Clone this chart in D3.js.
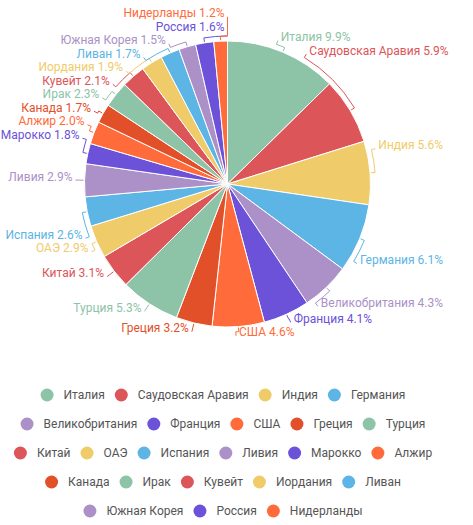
<!DOCTYPE html>
<meta charset="utf-8">
<style>
  body { margin: 0; background: #fff; }
  text { font-family: Roboto, "Noto Sans", sans-serif; }
</style>
<body>
<svg width="473" height="525"></svg>

<!-- load the d3.js library -->
<script src="https://cdn.jsdelivr.net/npm/d3@7/dist/d3.min.js"></script>

<script>

// Data
var countries = ["Италия", "Саудовская Аравия", "Индия", "Германия", "Великобритания",
                 "Франция", "США", "Греция", "Турция", "Китай", "ОАЭ", "Испания",
                 "Ливия", "Марокко", "Алжир", "Канада", "Ирак", "Кувейт", "Иордания",
                 "Ливан", "Южная Корея", "Россия", "Нидерланды"];
var shares = [9.9, 5.9, 5.6, 6.1, 4.3, 4.1, 4.6, 3.2, 5.3, 3.1, 2.9, 2.6,
              2.9, 1.8, 2.0, 1.7, 2.3, 2.1, 1.9, 1.7, 1.5, 1.6, 1.2];
var palette = ["#8dc3a7", "#dc5558", "#f0cb6a", "#5cb5e4", "#ab91c7", "#6c51d9", "#ff6b3b", "#e2502a"];

var svg = d3.select("svg");
var cx = 227.5, cy = 184, radius = 143;
var leftLimit = 8, rightLimit = 443;

var data = countries.map(function(c, i) {
    return { name: c, value: shares[i], color: palette[i % palette.length] };
});

var pie = d3.pie().sort(null).value(function(d) { return d.value; });
var arc = d3.arc().innerRadius(0).outerRadius(radius);
var arcs = pie(data);

var g = svg.append("g").attr("transform", "translate(" + cx + "," + cy + ")");

g.selectAll("path.slice")
    .data(arcs)
    .join("path")
    .attr("class", "slice")
    .attr("d", arc)
    .attr("fill", function(d) { return d.data.color; })
    .attr("stroke", "#fff")
    .attr("stroke-width", 1);

// Outer labels, spread so they neither collide nor run off the sides
var lineR = radius + 5, labelR = radius + 9, labelH = 13.5;

function pt(a, r) { return [r * Math.sin(a), -r * Math.cos(a)]; }
function labelText(d) { return d.data.name + " " + d.data.value.toFixed(1) + "%"; }

var lab = g.selectAll("g.label")
    .data(arcs)
    .join("g")
    .attr("class", "label");

var labelPath = lab.append("path")
    .attr("fill", "none")
    .attr("stroke", function(d) { return d.data.color; })
    .attr("stroke-width", 1);

var labelTxt = lab.append("text")
    .attr("font-size", 12)
    .attr("fill", function(d) { return d.data.color; })
    .text(labelText);

var labels = [];
labelTxt.each(function(d) {
    var a = (d.startAngle + d.endAngle) / 2;
    var side = a < Math.PI ? 1 : -1;
    var w = this.getComputedTextLength();
    var y = -labelR * Math.cos(a);
    // room left for the label on its side
    var room = side > 0 ? rightLimit - cx : cx - leftLimit;
    var xMax = Math.max(0, room - w - 3);
    var yMin = xMax < labelR ? Math.sqrt(labelR * labelR - xMax * xMax) : 0;
    if (Math.abs(y) < yMin) y = (y < 0 ? -1 : 1) * yMin;
    labels.push({ d: d, a: a, side: side, y: y });
});

// keep the slice order (top to bottom) while pushing overlapping labels apart
function distribute(items, minY, maxY) {
    var boxes = items.map(function(it) {
        return { targets: [it.y], size: labelH, pos: it.y - labelH / 2 };
    });
    var moved = true;
    while (moved) {
        moved = false;
        boxes.forEach(function(b) {
            var m = d3.mean(b.targets);
            b.pos = Math.max(minY, Math.min(maxY - b.size, m - b.size / 2));
        });
        for (var i = boxes.length - 1; i > 0; i--) {
            var p = boxes[i - 1], b = boxes[i];
            if (p.pos + p.size > b.pos + 0.01) {
                p.targets = p.targets.concat(b.targets);
                p.size += b.size;
                boxes.splice(i, 1);
                moved = true;
            }
        }
    }
    var k = 0;
    boxes.forEach(function(b) {
        b.targets.forEach(function(t, j) {
            items[k++].y = b.pos + labelH / 2 + j * labelH;
        });
    });
}

var rightSide = labels.filter(function(l) { return l.side > 0; })
    .sort(function(a, b) { return a.a - b.a; });
var leftSide = labels.filter(function(l) { return l.side < 0; })
    .sort(function(a, b) { return b.a - a.a; });

distribute(rightSide, 10 - cy, 345 - cy);
distribute(leftSide, 10 - cy, 345 - cy);

labels.forEach(function(l) {
    l.x = l.side * Math.sqrt(Math.max(0, labelR * labelR - l.y * l.y));
    var aL = Math.atan2(l.x, -l.y);
    if (aL < 0) aL += 2 * Math.PI;
    if (l.x === 0) aL = l.side > 0 ? 0.0001 : 2 * Math.PI - 0.0001;
    var p0 = pt(l.a, radius + 1), p1 = pt(l.a, lineR), p2 = pt(aL, lineR);
    var sweep = aL > l.a ? 1 : 0;
    l.path = "M" + p0 + "L" + p1 + "A" + lineR + "," + lineR + " 0 0 " + sweep + " " + p2 + "L" + [l.x, l.y];
    l.d.label = l;
});

labelPath.attr("d", function(d) { return d.label.path; });

labelTxt
    .attr("x", function(d) { return d.label.x + d.label.side * 3; })
    .attr("y", function(d) { return d.label.y + 0.5; })
    .attr("text-anchor", function(d) { return d.label.side > 0 ? "start" : "end"; });

// Legend, wrapped into centred rows
var legend = svg.append("g").attr("class", "legend");
var dotR = 6.5, dotGap = 10, itemGap = 10, maxRow = 440, legendX = 223, rowY0 = 395, rowStep = 29;

var items = legend.selectAll("g.item")
    .data(data)
    .join("g")
    .attr("class", "item");

items.append("circle")
    .attr("r", dotR)
    .attr("fill", function(d) { return d.color; });

items.append("text")
    .attr("x", dotR + dotGap)
    .attr("dy", "0.35em")
    .attr("font-size", 12)
    .attr("fill", "#555")
    .text(function(d) { return d.name; });

var rows = [[]], rowW = [0];
items.each(function(d) {
    var w = 2 * dotR + dotGap + this.querySelector("text").getComputedTextLength();
    var r = rows.length - 1;
    var next = rowW[r] + (rows[r].length ? itemGap : 0) + w;
    if (rows[r].length && next > maxRow) {
        rows.push([]); rowW.push(0); r++;
        next = w;
    }
    rows[r].push({ node: this, w: w });
    rowW[r] = next;
});

rows.forEach(function(row, r) {
    var x = legendX - rowW[r] / 2;
    row.forEach(function(it) {
        d3.select(it.node).attr("transform", "translate(" + (x + dotR) + "," + (rowY0 + r * rowStep) + ")");
        x += it.w + itemGap;
    });
});

</script>
</body>
